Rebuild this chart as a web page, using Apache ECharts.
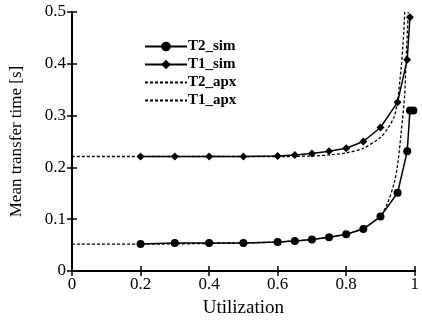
<!DOCTYPE html>
<html><head><meta charset="utf-8">
<script src="https://cdn.jsdelivr.net/npm/echarts@6/dist/echarts.min.js"></script>
<style>html,body{margin:0;padding:0;background:#fff}#c{width:422px;height:323px}</style>
</head><body><div id="c"></div>
<script>
const seriesNames = ["T2_sim", "T1_sim", "T2_apx", "T1_apx"];
const simX = [0.2, 0.3, 0.4, 0.5, 0.6, 0.65, 0.7, 0.75, 0.8, 0.85, 0.9, 0.95, 0.978, 0.986];
const t2Sim = [0.052, 0.054, 0.054, 0.054, 0.056, 0.058, 0.061, 0.065, 0.071, 0.081, 0.105, 0.151, 0.231, 0.31];
const t2SimExtraX = [0.996];
const t2SimExtra = [0.31];
const t1Sim = [0.221, 0.221, 0.221, 0.221, 0.222, 0.224, 0.227, 0.231, 0.237, 0.25, 0.277, 0.326, 0.408, 0.49];
const t2ApxX = [0, 0.2, 0.5, 0.6, 0.7, 0.8, 0.85, 0.9, 0.92, 0.94, 0.95, 0.96, 0.97, 0.975, 0.981];
const t2Apx = [0.052, 0.052, 0.054, 0.056, 0.061, 0.071, 0.083, 0.107, 0.13, 0.17, 0.205, 0.265, 0.335, 0.41, 0.5];
const t1ApxX = [0, 0.5, 0.6, 0.7, 0.75, 0.8, 0.85, 0.9, 0.92, 0.94, 0.95, 0.96, 0.966, 0.971];
const t1Apx = [0.221, 0.221, 0.221, 0.222, 0.224, 0.228, 0.237, 0.258, 0.274, 0.298, 0.33, 0.39, 0.44, 0.5];
const xTicks = [0, 0.2, 0.4, 0.6, 0.8, 1];
const yTicks = [0, 0.1, 0.2, 0.3, 0.4, 0.5];

const zip = (xs, ys) => xs.map((x, i) => [x, ys[i]]);
const font = "Liberation Serif";
const axisLine = {show: true, lineStyle: {color: "#000", width: 2}};
const ticks = {show: true, inside: true, length: 5, lineStyle: {color: "#000", width: 1.5}};
const lbl = {color: "#000", fontFamily: font, fontSize: 17};
const chart = echarts.init(document.getElementById("c"), null, {renderer: "canvas"});
chart.setOption({
  animation: false,
  backgroundColor: "#fff",
  grid: {left: 69, right: 2, top: 12, bottom: 45},
  legend: {
    orient: "vertical", left: 139, top: 34, itemWidth: 42, itemHeight: 12, itemGap: 3,
    textStyle: {color: "#000", fontFamily: font, fontSize: 15, fontWeight: "bold", padding: [0, 0, 0, -4]},
    data: [
      {name: seriesNames[0]},
      {name: seriesNames[1]},
      {name: seriesNames[2], itemStyle: {color: "rgba(0,0,0,0)", borderWidth: 0}},
      {name: seriesNames[3], itemStyle: {color: "rgba(0,0,0,0)", borderWidth: 0}}
    ]
  },
  xAxis: [{
    type: "value", min: 0, max: 1, interval: 0.2,
    name: "Utilization", nameLocation: "middle", nameGap: 28,
    nameTextStyle: {color: "#000", fontFamily: font, fontSize: 19},
    axisLine: axisLine, axisTick: ticks, splitLine: {show: false},
    axisLabel: Object.assign({margin: 5, formatter: v => xTicks.includes(+v.toFixed(1)) ? (v === 0 ? "0" : v === 1 ? "1" : v.toFixed(1)) : ""}, lbl)
  }, {
    type: "value", min: 0, max: 1, interval: 0.2, position: "top",
    axisLine: axisLine, axisTick: ticks, axisLabel: {show: false}, splitLine: {show: false}
  }],
  yAxis: [{
    type: "value", min: 0, max: 0.5, interval: 0.1,
    name: "Mean transfer time [s]", nameLocation: "middle", nameGap: 47,
    nameTextStyle: {color: "#000", fontFamily: font, fontSize: 17},
    axisLine: axisLine, axisTick: ticks, splitLine: {show: false},
    axisLabel: Object.assign({margin: 6, formatter: v => yTicks.includes(+v.toFixed(1)) ? (v === 0 ? "0" : v.toFixed(1)) : ""}, lbl)
  }, {
    type: "value", min: 0, max: 0.5, interval: 0.1, position: "right",
    axisLine: axisLine, axisTick: ticks, axisLabel: {show: false}, splitLine: {show: false}
  }],
  series: [
    {name: "T2_sim", type: "line", data: zip(simX, t2Sim).concat(zip(t2SimExtraX, t2SimExtra)), symbol: "circle", symbolSize: 8,
     itemStyle: {color: "#000"}, lineStyle: {color: "#000", width: 1.5}, z: 5},
    {name: "T1_sim", type: "line", data: zip(simX, t1Sim), symbol: "diamond", symbolSize: 8,
     itemStyle: {color: "#000"}, lineStyle: {color: "#000", width: 1.5}, z: 5},
    {name: "T2_apx", type: "line", data: zip(t2ApxX, t2Apx), symbol: "none", smooth: 0.3,
     itemStyle: {color: "#000"}, lineStyle: {color: "#000", width: 1.3, type: [3, 2]}},
    {name: "T1_apx", type: "line", data: zip(t1ApxX, t1Apx), symbol: "none", smooth: 0.3,
     itemStyle: {color: "#000"}, lineStyle: {color: "#000", width: 1.3, type: [3, 2]}}
  ]
});
</script></body></html>
